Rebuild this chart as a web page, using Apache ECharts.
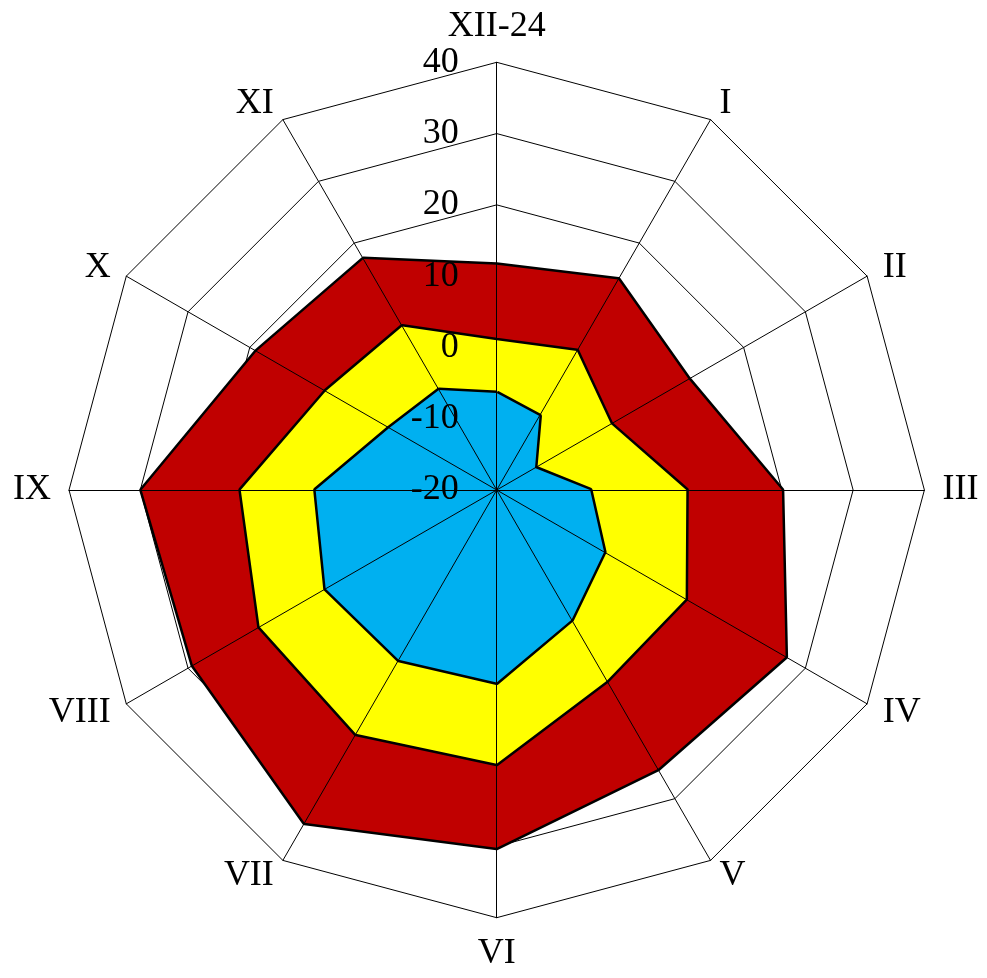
<!DOCTYPE html>
<html>
<head>
<meta charset="utf-8">
<script src="https://cdn.jsdelivr.net/npm/echarts@6/dist/echarts.min.js"></script>
<style>
html,body{margin:0;padding:0;background:#fff}
#main{width:987px;height:978px}
</style>
</head>
<body>
<div id="main"></div>
<script>
// axes clockwise from the top
var months = ['XII-24','I','II','III','IV','V','VI','VII','VIII','IX','X','XI'];
var tickValues = [-20, -10, 0, 10, 20, 30, 40];
var maxValues  = [11.6, 14.1, 11.1, 20.0, 26.8, 25.2, 30.2, 33.9, 29.2, 29.8, 18.9, 17.4];
var meanValues = [1.0, 2.5, -1.5, 6.6, 10.6, 10.9, 18.4, 19.5, 18.4, 15.9, 7.7, 6.5];
var minValues  = [-6.4, -8.0, -13.8, -6.9, -2.6, 1.0, 7.0, 7.5, 7.7, 5.4, -2.6, -3.8];

var serif = "'Liberation Serif', 'Times New Roman', serif";

// echarts radar runs counter-clockwise, so flip everything after the first axis
var order = [0];
for (var k = months.length - 1; k > 0; k--) order.push(k);
function reorder(arr){
    return order.map(function(i){ return arr[i]; });
}

var axisMin = tickValues[0];
var axisMax = tickValues[tickValues.length - 1];

var baseIndicator = order.map(function(i){
    return {name: months[i], min: axisMin, max: axisMax};
});
// second radar only carries the spokes and tick labels, drawn above the fills
var topIndicator = order.map(function(i, k){
    var ind = {name: months[i], min: axisMin, max: axisMax};
    if(k == 0){
        ind.axisLabel = {
            show: true,
            margin: 38,
            color: '#000',
            fontFamily: serif,
            fontSize: 36,
            padding: [6, 0, 0, 0]
        };
    }
    return ind;
});

// the fill polygon sits over the outline, so only the outer half of the stroke shows
var outline = {color: '#000', width: 5};

var myChart = echarts.init(document.getElementById('main'));

var option = {
    animation: false,
    backgroundColor: '#fff',
    radar: [
        {
            center: [496.7, 490],
            radius: 427.7,
            startAngle: 90,
            shape: 'polygon',
            splitNumber: tickValues.length - 1,
            indicator: baseIndicator,
            z: 0,
            axisName: {
                color: '#000',
                fontFamily: serif,
                fontSize: 36
            },
            nameGap: 18,
            axisLine: {show: false},
            splitLine: {lineStyle: {color: '#000', width: 1}},
            splitArea: {show: false},
            axisTick: {show: false},
            axisLabel: {show: false}
        },
        {
            center: [496.7, 490],
            radius: 427.7,
            startAngle: 90,
            shape: 'polygon',
            splitNumber: tickValues.length - 1,
            indicator: topIndicator,
            z: 10,
            axisName: {show: false},
            axisLine: {show: true, lineStyle: {color: '#000', width: 1}},
            splitLine: {show: false},
            splitArea: {show: false},
            axisTick: {show: false},
            axisLabel: {show: false}
        }
    ],
    series: [
        {
            type: 'radar',
            radarIndex: 0,
            symbol: 'none',
            lineStyle: outline,
            areaStyle: {color: '#C00000', opacity: 1},
            data: [{name: 'max', value: reorder(maxValues)}]
        },
        {
            type: 'radar',
            radarIndex: 0,
            symbol: 'none',
            lineStyle: outline,
            areaStyle: {color: '#FFFF00', opacity: 1},
            data: [{name: 'mean', value: reorder(meanValues)}]
        },
        {
            type: 'radar',
            radarIndex: 0,
            symbol: 'none',
            lineStyle: outline,
            areaStyle: {color: '#00B0F0', opacity: 1},
            data: [{name: 'min', value: reorder(minValues)}]
        }
    ]
};

myChart.setOption(option);
</script>
</body>
</html>
